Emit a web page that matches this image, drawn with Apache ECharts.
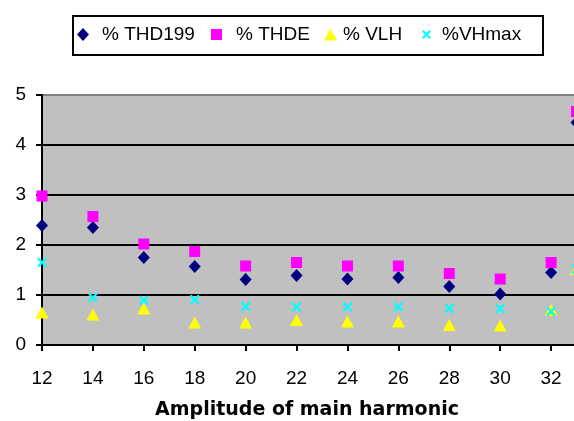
<!DOCTYPE html>
<html>
<head>
<meta charset="utf-8">
<script src="https://cdn.jsdelivr.net/npm/echarts@6/dist/echarts.min.js"></script>
<style>html,body{margin:0;padding:0;background:#fff;}#c{width:574px;height:421px;}</style>
</head>
<body>
<div id="c"></div>
<script>
var amplitudes = [12, 14, 16, 18, 20, 22, 24, 26, 28, 30, 32, 33];
var thd199 = [2.39, 2.35, 1.75, 1.57, 1.31, 1.39, 1.32, 1.35, 1.17, 1.02, 1.45, 4.45];
var thde   = [2.98, 2.57, 2.02, 1.87, 1.58, 1.65, 1.58, 1.58, 1.43, 1.32, 1.65, 4.67];
var vlh    = [0.65, 0.61, 0.73, 0.45, 0.45, 0.50, 0.47, 0.47, 0.40, 0.39, 0.70, 1.52];
var vhmax  = [1.65, 0.95, 0.89, 0.91, 0.77, 0.76, 0.76, 0.76, 0.73, 0.73, 0.67, 1.52];
var seriesNames = ['% THD199', '% THDE', '% VLH', '%VHmax'];
var yTicks = [0, 1, 2, 3, 4, 5];

function pairs(vals) { return amplitudes.map(function (x, i) { return [x, vals[i]]; }); }

var FONT = 'Liberation Sans';
var xMark = 'path://M0,1.6L1.6,0L10,8.4L8.4,10Z M8.4,0L10,1.6L1.6,10L0,8.4Z';

var chart = echarts.init(document.getElementById('c'), null, {renderer: 'canvas'});

function legendAt(name, icon, left, w, h, textPad) {
  return {
    data: [{name: name, icon: icon}], left: left, top: 25, padding: 0, itemGap: 0,
    itemWidth: w, itemHeight: h, selectedMode: false,
    textStyle: {fontFamily: FONT, fontSize: 19, color: '#000', lineHeight: 19, padding: [0, 0, 0, textPad]}
  };
}

chart.setOption({
  animation: false,
  backgroundColor: '#fff',
  graphic: [{
    type: 'rect', left: 72, top: 15, z: -1,
    shape: {width: 470, height: 39},
    style: {fill: '#fff', stroke: '#000', lineWidth: 2}
  }],
  legend: [
    legendAt(seriesNames[0], 'diamond', 77, 12, 13, 8),
    legendAt(seriesNames[1], 'rect', 211, 11, 11, 9),
    legendAt(seriesNames[2], 'triangle', 324, 13, 12, 1),
    legendAt(seriesNames[3], xMark, 422, 9, 9, 6)
  ],
  grid: {
    left: 42, top: 95, width: 560, height: 250,
    outerBoundsMode: 'none', containLabel: false,
    show: true, backgroundColor: '#C0C0C0', borderWidth: 0
  },
  xAxis: {
    type: 'value', min: 12, max: 34, interval: 2,
    name: 'Amplitude of main harmonic', nameLocation: 'middle', nameGap: 56,
    nameTextStyle: {fontFamily: 'DejaVu Sans', fontWeight: 'bold', fontSize: 19, color: '#000', padding: [0, 30, 0, 0]},
    axisLine: {show: true, onZero: false, lineStyle: {color: '#000', width: 2}},
    axisTick: {show: true, length: 6, lineStyle: {color: '#000', width: 2}},
    axisLabel: {fontFamily: FONT, fontSize: 19, color: '#000', margin: 24},
    splitLine: {show: false}
  },
  yAxis: {
    type: 'value', min: yTicks[0], max: yTicks[yTicks.length - 1], interval: 1,
    axisLine: {show: true, lineStyle: {color: '#000', width: 2}},
    axisTick: {show: true, length: 6, lineStyle: {color: '#000', width: 2}},
    axisLabel: {fontFamily: FONT, fontSize: 19, color: '#000', margin: 16},
    splitLine: {show: true, lineStyle: {color: ['#000', '#000', '#000', '#000', '#000', '#808080'], width: 2}}
  },
  series: [
    {name: seriesNames[0], type: 'scatter', data: pairs(thd199), symbol: 'diamond', symbolSize: [12, 13], itemStyle: {color: '#000080', opacity: 1}},
    {name: seriesNames[1], type: 'scatter', data: pairs(thde), symbol: 'rect', symbolSize: 11, itemStyle: {color: '#FF00FF', opacity: 1}},
    {name: seriesNames[2], type: 'scatter', data: pairs(vlh), symbol: 'triangle', symbolSize: [13, 12], itemStyle: {color: '#FFFF00', opacity: 1}},
    {name: seriesNames[3], type: 'scatter', data: pairs(vhmax), symbol: xMark, symbolSize: 10, itemStyle: {color: '#00FFFF', opacity: 1}}
  ]
});
</script>
</body>
</html>
